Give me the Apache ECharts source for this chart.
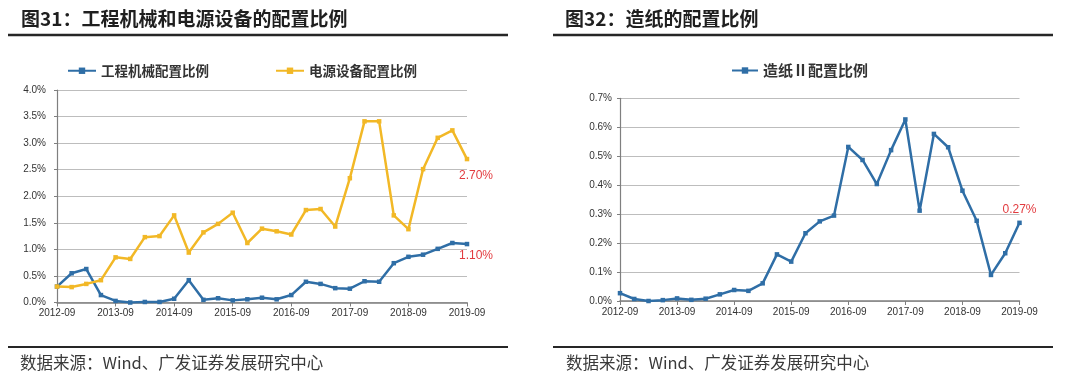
<!DOCTYPE html>
<html>
<head>
<meta charset="utf-8">
<script src="https://cdn.jsdelivr.net/npm/echarts@6/dist/echarts.min.js"></script>
<style>
html,body{margin:0;padding:0;background:#fff;}
#c{width:1080px;height:381px;}
</style>
</head>
<body>
<div id="c"></div>
<script>
const categories = ['2012-09','2012-12','2013-03','2013-06','2013-09','2013-12','2014-03','2014-06',
  '2014-09','2014-12','2015-03','2015-06','2015-09','2015-12','2016-03','2016-06',
  '2016-09','2016-12','2017-03','2017-06','2017-09','2017-12','2018-03','2018-06',
  '2018-09','2018-12','2019-03','2019-06','2019-09'];

// 工程机械配置比例 (%)
const machinery = [0.30,0.55,0.63,0.14,0.03,0.00,0.01,0.01,0.07,0.42,0.05,0.08,0.04,0.06,0.09,
  0.06,0.14,0.39,0.35,0.27,0.26,0.40,0.39,0.74,0.86,0.90,1.01,1.12,1.10];
// 电源设备配置比例 (%)
const power = [0.30,0.29,0.35,0.42,0.85,0.82,1.23,1.25,1.64,0.94,1.32,1.48,1.69,1.12,1.39,
  1.34,1.28,1.74,1.76,1.43,2.34,3.41,3.41,1.64,1.38,2.51,3.10,3.24,2.70];
// 造纸Ⅱ配置比例 (%)
const paper = [0.027,0.007,0.000,0.003,0.009,0.004,0.008,0.023,0.038,0.035,0.061,0.161,0.136,0.234,0.275,
  0.295,0.532,0.487,0.404,0.521,0.627,0.312,0.577,0.531,0.381,0.277,0.090,0.165,0.270];

const leftTicks = {max: 4.0, interval: 0.5, digits: 1};
const rightTicks = {max: 0.7, interval: 0.1, digits: 1};

const BLUE = '#2f6ea6';
const GOLD = '#f2b826';
const RED = '#e23b3f';
const LATIN = '"Liberation Sans", Arial, sans-serif';
const CJK = '"Noto Sans CJK SC", sans-serif';

function withEndLabel(arr, labelOpt) {
  return arr.map((v, i) => i === arr.length - 1
    ? {value: v, label: Object.assign({show: true, color: RED, fontSize: 12, fontFamily: LATIN,
        formatter: (p) => p.value.toFixed(2) + '%'}, labelOpt)}
    : v);
}

function xAxis(gi) {
  return {
    type: 'category', gridIndex: gi, data: categories, boundaryGap: false,
    axisLine: {lineStyle: {color: '#7f7f7f', width: 1.5}},
    axisTick: {interval: 3, length: 4, lineStyle: {color: '#7f7f7f'}},
    axisLabel: {interval: 3, color: '#333', fontSize: 10, fontFamily: LATIN, margin: 6},
    splitLine: {show: false}
  };
}
function yAxis(gi, t, margin) {
  return {
    type: 'value', gridIndex: gi, min: 0, max: t.max, interval: t.interval,
    axisLine: {show: true, lineStyle: {color: '#7f7f7f', width: 1.2}},
    axisTick: {show: true, length: 3, lineStyle: {color: '#7f7f7f'}},
    axisLabel: {color: '#333', fontSize: 10, fontFamily: LATIN, margin: margin,
      formatter: (v) => v.toFixed(t.digits) + '%'},
    splitLine: {lineStyle: {color: '#bdbdbd', width: 1}}
  };
}
function lineSeries(name, data, color, xi, yi) {
  return {
    name: name, type: 'line', xAxisIndex: xi, yAxisIndex: yi, data: data,
    symbol: 'rect', symbolSize: 4.5, showAllSymbol: true,
    lineStyle: {color: color, width: 2.5},
    itemStyle: {color: color},
    emphasis: {disabled: true},
    animation: false
  };
}

const chart = echarts.init(document.getElementById('c'), null, {renderer: 'canvas'});
chart.setOption({
  animation: false,
  backgroundColor: '#fff',
  title: [
    {text: '图31：工程机械和电源设备的配置比例', left: 21, top: 9, padding: 0,
      textStyle: {fontSize: 19, fontWeight: 'bold', color: '#1f1f1f', fontFamily: CJK}},
    {text: '图32：造纸的配置比例', left: 565, top: 9, padding: 0,
      textStyle: {fontSize: 19, fontWeight: 'bold', color: '#1f1f1f', fontFamily: CJK}}
  ],
  legend: [
    {data: ['工程机械配置比例', '电源设备配置比例'], left: 67, top: 64, padding: 0,
      itemWidth: 28, itemHeight: 8, itemGap: 66,
      textStyle: {fontSize: 13.5, fontWeight: 'bold', color: '#333', fontFamily: CJK}},
    {data: ['造纸Ⅱ配置比例'], left: 731, top: 63, padding: 0,
      itemWidth: 26, itemHeight: 8,
      textStyle: {fontSize: 15, fontWeight: 'bold', color: '#333', fontFamily: CJK}}
  ],
  grid: [
    {left: 57, right: 1080 - 467, top: 90, bottom: 381 - 302.5},
    {left: 620, right: 1080 - 1019.5, top: 98.3, bottom: 381 - 301}
  ],
  xAxis: [xAxis(0), xAxis(1)],
  yAxis: [yAxis(0, leftTicks, 11), yAxis(1, rightTicks, 8)],
  series: [
    lineSeries('工程机械配置比例', withEndLabel(machinery, {position: 'bottom', offset: [9, -2]}), BLUE, 0, 0),
    lineSeries('电源设备配置比例', withEndLabel(power, {position: 'bottom', offset: [9, 3]}), GOLD, 0, 0),
    lineSeries('造纸Ⅱ配置比例', withEndLabel(paper, {position: 'top', offset: [0, 0]}), BLUE, 1, 1)
  ],
  graphic: [
    {type: 'line', shape: {x1: 8, y1: 35, x2: 508, y2: 35}, style: {stroke: '#262626', lineWidth: 2.5}},
    {type: 'line', shape: {x1: 553, y1: 35, x2: 1053, y2: 35}, style: {stroke: '#262626', lineWidth: 2.5}},
    {type: 'line', shape: {x1: 8, y1: 347, x2: 508, y2: 347}, style: {stroke: '#262626', lineWidth: 2}},
    {type: 'line', shape: {x1: 553, y1: 347, x2: 1053, y2: 347}, style: {stroke: '#262626', lineWidth: 2}},
    {type: 'text', left: 20, top: 354, style: {text: '数据来源：Wind、广发证券发展研究中心', fontSize: 16.5,
      fill: '#3a3a3a', fontFamily: CJK}},
    {type: 'text', left: 566, top: 354, style: {text: '数据来源：Wind、广发证券发展研究中心', fontSize: 16.5,
      fill: '#3a3a3a', fontFamily: CJK}}
  ]
});
</script>
</body>
</html>
